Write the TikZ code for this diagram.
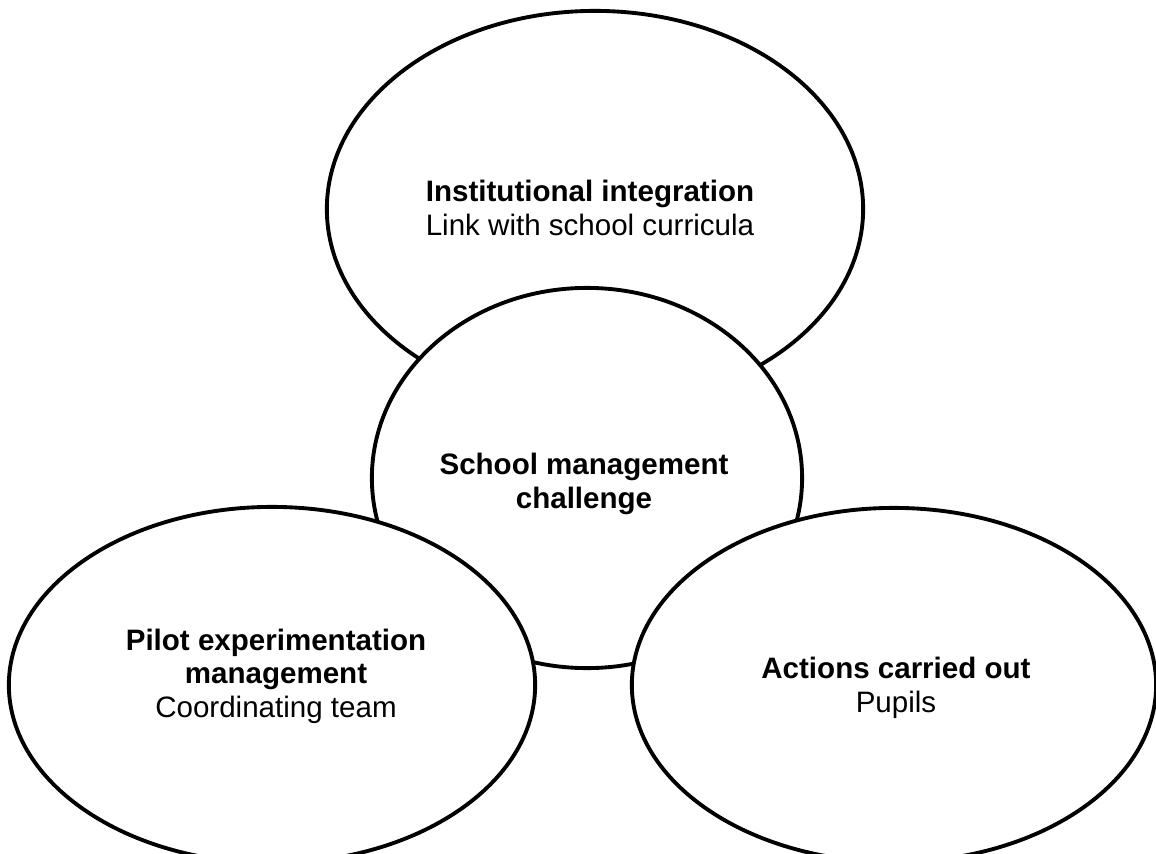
\documentclass[tikz,border=0pt]{standalone}
\usepackage{fontspec}
\setmainfont{Liberation Sans}
\usetikzlibrary{shapes.geometric}
\begin{document}
\begin{tikzpicture}[x=0.01cm,y=-0.01cm,
  bubble/.style={ellipse, draw=black, fill=white, line width=1.1pt, inner sep=0pt},
  caption/.style={align=center, font=\fontsize{8.4}{9.4}\selectfont, inner sep=0pt, anchor=base}]
\useasboundingbox (0,0) rectangle (1156,854);
\clip (0,0) rectangle (1156,854);
% the four overlapping bubbles, back to front
\node[bubble, minimum width=5.36cm, minimum height=3.96cm] (top) at (595,209) {};
\node[bubble, minimum width=4.30cm, minimum height=3.80cm] (mid) at (587,478) {};
\node[bubble, minimum width=5.26cm, minimum height=3.56cm] (left) at (272,685) {};
\node[bubble, minimum width=5.24cm, minimum height=3.54cm] (right) at (894,685) {};
% texts (anchored at the baseline of their last line)
\node[caption] (toptext) at (590,235) {\textbf{Institutional integration}\\Link with school curricula};
\node[caption] (midtext) at (584,508) {\textbf{School management}\\\textbf{challenge}};
\node[caption] (lefttext) at (276,717) {\textbf{Pilot experimentation}\\\textbf{management}\\Coordinating team};
\node[caption] (righttext) at (896,712) {\textbf{Actions carried out}\\Pupils};
\end{tikzpicture}
\end{document}
